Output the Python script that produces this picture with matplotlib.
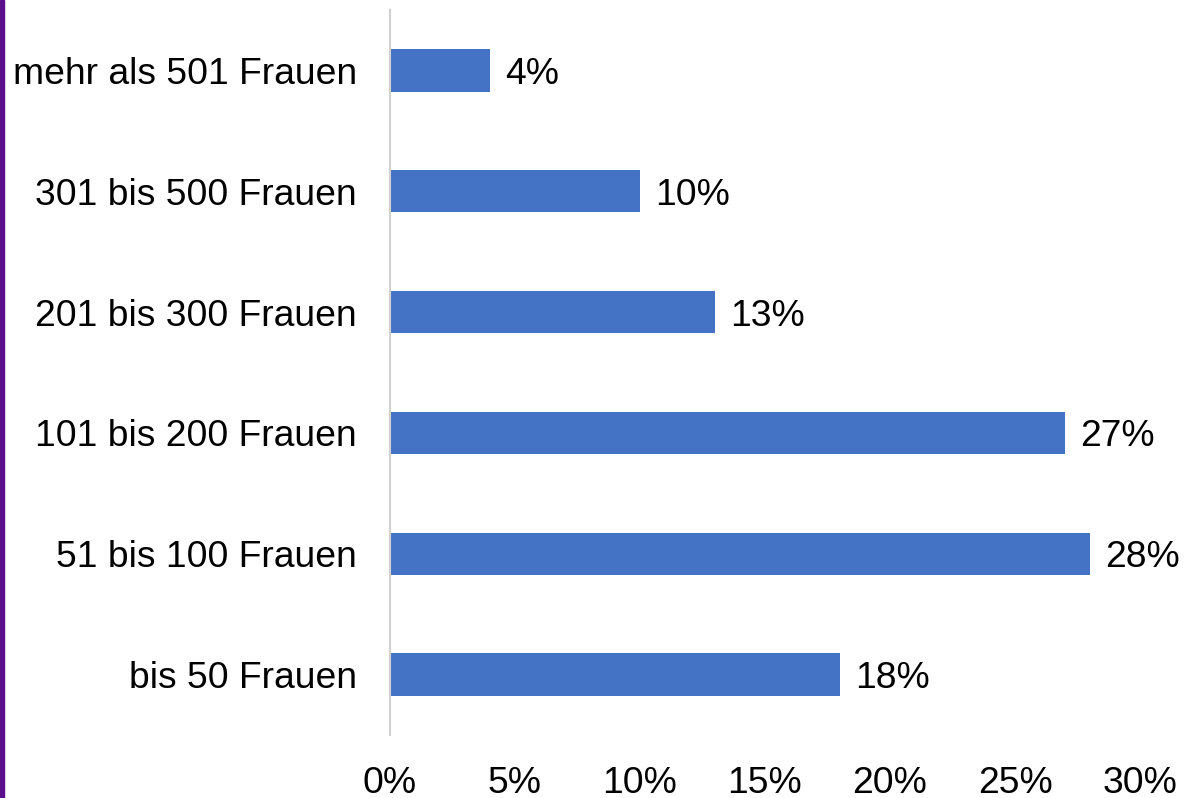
import matplotlib
matplotlib.use("Agg")
import matplotlib.pyplot as plt
from matplotlib.patches import Rectangle
from matplotlib.ticker import FuncFormatter

plt.rcParams['font.family'] = ['Liberation Sans', 'DejaVu Sans']

kategorien = ["bis 50 Frauen", "51 bis 100 Frauen", "101 bis 200 Frauen",
              "201 bis 300 Frauen", "301 bis 500 Frauen", "mehr als 501 Frauen"]
anteile = [18, 28, 27, 13, 10, 4]
xticks = [0, 5, 10, 15, 20, 25, 30]

fs = 26.8

fig = plt.figure(figsize=(11.89, 7.98), dpi=100)
ax = fig.add_axes([390/1189, 63/798, 750/1189, 725/798])

bars = ax.barh(range(len(kategorien)), anteile, height=0.35, color="#4472C4")
for i, v in enumerate(anteile):
    ax.text(v + 0.6, i, f"{v}%", va="center_baseline", ha="left", fontsize=fs)

ax.set_xlim(0, 30)
ax.set_ylim(-0.5, len(kategorien) - 0.5)
ax.set_yticks(range(len(kategorien)))
ax.set_yticklabels(kategorien, fontsize=fs, va="center_baseline")
ax.set_xticks(xticks)
ax.xaxis.set_major_formatter(FuncFormatter(lambda x, p: f"{int(x)}%"))
ax.tick_params(axis="x", labelsize=fs, length=0, pad=22)
ax.tick_params(axis="y", length=0, pad=24)

for s in ["top", "right", "bottom"]:
    ax.spines[s].set_visible(False)
ax.spines["left"].set_color("#d0d0d0")
ax.spines["left"].set_linewidth(1.5)

# lila Rand links
fig.patches.append(Rectangle((0, 0), 4/1189, 1, transform=fig.transFigure,
                             color="#5c0f8b", zorder=0))

fig.savefig("out.png", dpi=100)
